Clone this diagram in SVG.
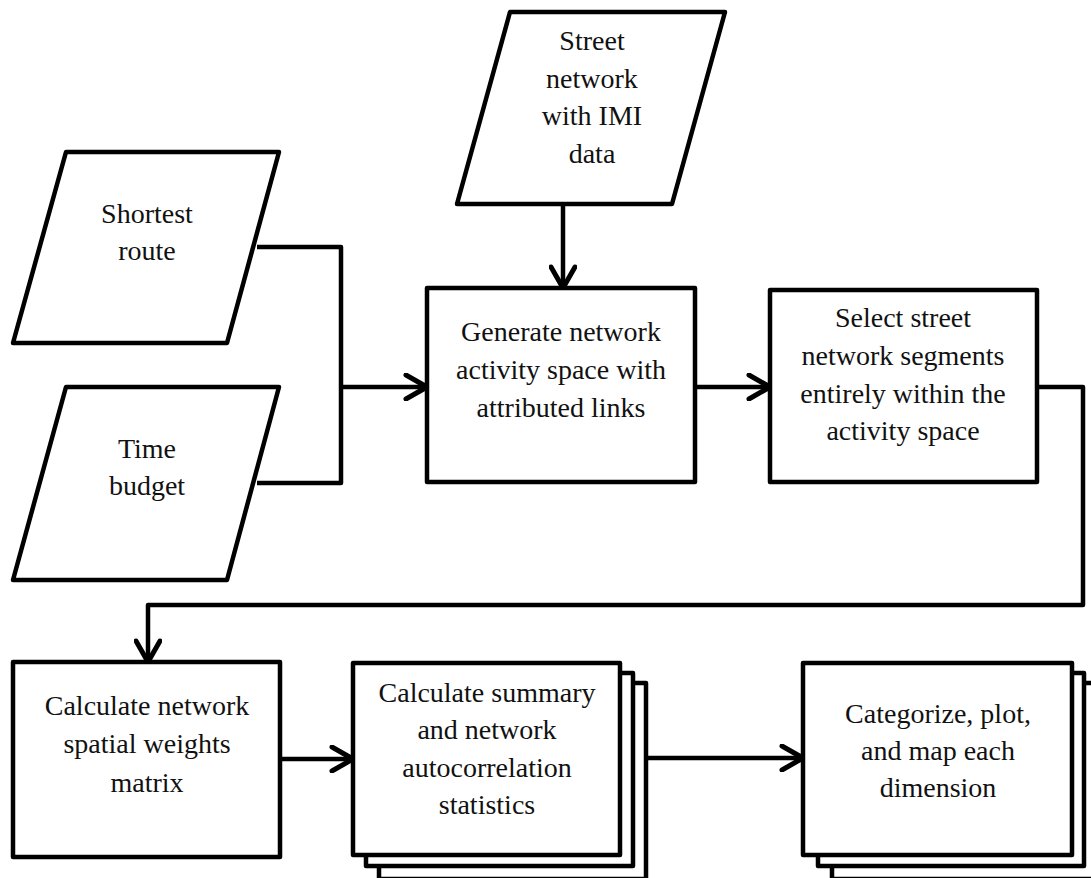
<svg xmlns="http://www.w3.org/2000/svg" width="1091" height="878" viewBox="0 0 1091 878">
<style>
.s{fill:#fff;stroke:#000;stroke-width:4.5;stroke-linejoin:round}
.c{fill:none;stroke:#000;stroke-width:4.5;stroke-linejoin:round}
.t{font-family:'Liberation Serif','Times New Roman',serif;font-size:28px;text-anchor:middle;fill:#111}
</style>
<defs>
<marker id="arr" markerUnits="userSpaceOnUse" viewBox="0 0 26 28" refX="24" refY="14" markerWidth="26" markerHeight="28" orient="auto">
<path d="M3,2 L24,14 L3,26" fill="none" stroke="#000" stroke-width="5" stroke-linecap="round" stroke-linejoin="round"/>
</marker>
</defs>
<rect width="1091" height="878" fill="#fff"/>
<g id="connectors">
<polyline class="c" points="257,247 341,247 341,483 257,483"/>
<line class="c" x1="341" y1="387" x2="427" y2="387" marker-end="url(#arr)"/>
<line class="c" x1="563" y1="204" x2="563" y2="288" marker-end="url(#arr)"/>
<line class="c" x1="695" y1="387" x2="770" y2="387" marker-end="url(#arr)"/>
<polyline class="c" points="1037,387 1083,387 1083,605 148,605 148,662" marker-end="url(#arr)"/>
<line class="c" x1="280" y1="759" x2="353" y2="759" marker-end="url(#arr)"/>
<line class="c" x1="620" y1="758" x2="803" y2="758" marker-end="url(#arr)"/>
</g>
<g id="shortest-route">
<polygon class="s" points="66,152 279,152 227,343 13,343"/>
<text class="t" x="147" y="223">Shortest</text>
<text class="t" x="147" y="260">route</text>
</g>
<g id="time-budget">
<polygon class="s" points="66,387 279,387 227,580 13,580"/>
<text class="t" x="147" y="458">Time</text>
<text class="t" x="147" y="495">budget</text>
</g>
<g id="street-network">
<polygon class="s" points="510,12 725,12 672,204 457,204"/>
<text class="t" x="592" y="50">Street</text>
<text class="t" x="592" y="88">network</text>
<text class="t" x="592" y="125">with IMI</text>
<text class="t" x="592" y="163">data</text>
</g>
<g id="generate">
<rect class="s" x="427" y="288" width="268" height="194"/>
<text class="t" x="561" y="341">Generate network</text>
<text class="t" x="561" y="379">activity space with</text>
<text class="t" x="561" y="417">attributed links</text>
</g>
<g id="select">
<rect class="s" x="770" y="290" width="267" height="192"/>
<text class="t" x="903" y="327">Select street</text>
<text class="t" x="903" y="365">network segments</text>
<text class="t" x="903" y="403">entirely within the</text>
<text class="t" x="903" y="440">activity space</text>
</g>
<g id="weights">
<rect class="s" x="13" y="662" width="267" height="195"/>
<text class="t" x="147" y="715">Calculate network</text>
<text class="t" x="147" y="753">spatial weights</text>
<text class="t" x="147" y="792">matrix</text>
</g>
<g id="summary">
<rect class="s" x="379" y="683" width="267" height="196"/>
<rect class="s" x="366" y="673" width="267" height="193"/>
<rect class="s" x="353" y="663" width="267" height="192"/>
<text class="t" x="487" y="702">Calculate summary</text>
<text class="t" x="487" y="739">and network</text>
<text class="t" x="487" y="777">autocorrelation</text>
<text class="t" x="487" y="814">statistics</text>
</g>
<g id="categorize">
<rect class="s" x="832" y="683" width="267" height="196"/>
<rect class="s" x="818" y="673" width="266" height="193"/>
<rect class="s" x="803" y="663" width="269" height="192"/>
<text class="t" x="938" y="723">Categorize, plot,</text>
<text class="t" x="938" y="760">and map each</text>
<text class="t" x="938" y="797">dimension</text>
</g>
</svg>
